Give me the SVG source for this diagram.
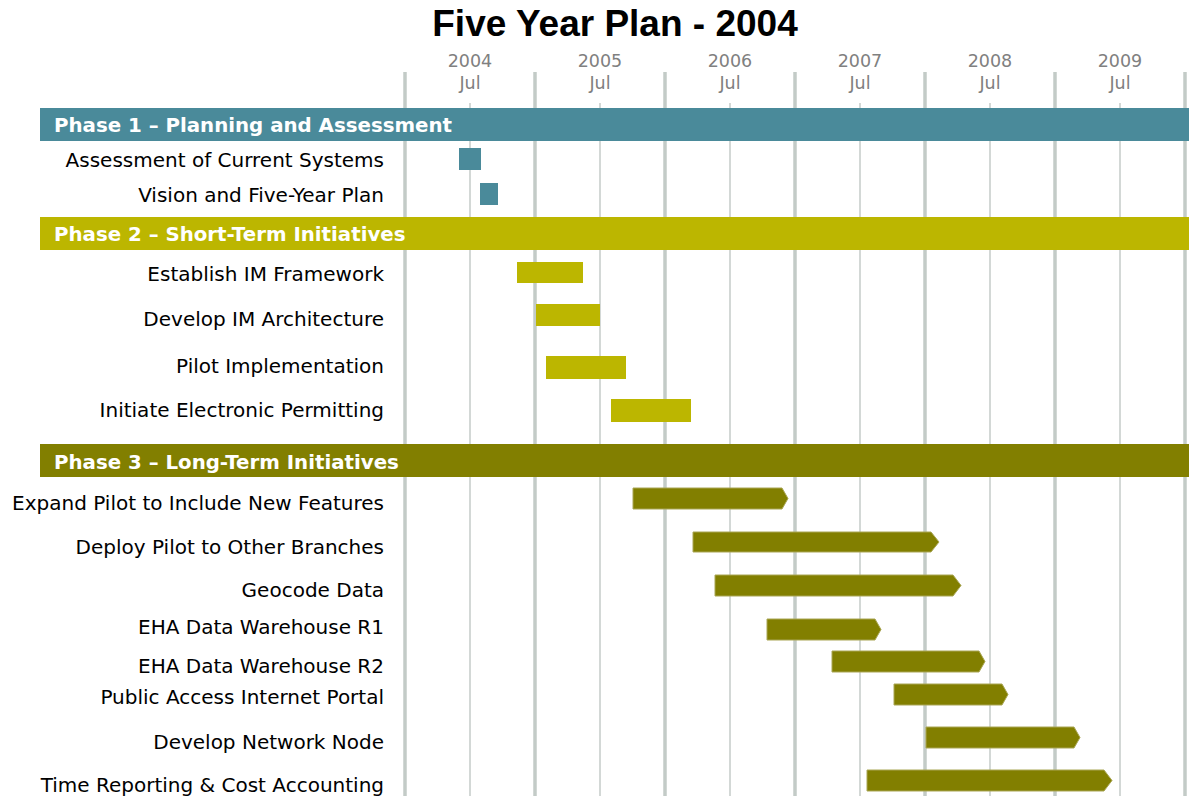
<svg xmlns="http://www.w3.org/2000/svg" width="1189" height="796" viewBox="0 0 1189 796">
<defs>
<style>
.title{font-family:"Liberation Sans",Arial,sans-serif;font-weight:bold;font-size:37px;fill:#000;text-anchor:middle}
.yr{font-family:"DejaVu Sans",Verdana,sans-serif;font-size:17.5px;fill:#808080;text-anchor:middle}
.lbl{font-family:"DejaVu Sans",Verdana,sans-serif;font-size:20px;fill:#000;text-anchor:end}
.ph{font-family:"DejaVu Sans",Verdana,sans-serif;font-weight:bold;font-size:19.8px;fill:#fff}
.gmaj{stroke:#c3cbc7;stroke-width:3.5}
.gmin{stroke:#d3d8d6;stroke-width:2}
.p1{fill:#4a8a9a}
.p2{fill:#bcb600}
.p3{fill:#827f00}
.p3b{fill:#827f00;stroke:#a9a655;stroke-width:1}
</style>
</defs>
<rect width="1189" height="796" fill="#fff"/>
<text class="title" x="615" y="36">Five Year Plan - 2004</text>
<g id="timescale">
<g class="yr">
<text x="470" y="67">2004</text><text x="470" y="89">Jul</text>
<text x="600" y="67">2005</text><text x="600" y="89">Jul</text>
<text x="730" y="67">2006</text><text x="730" y="89">Jul</text>
<text x="860" y="67">2007</text><text x="860" y="89">Jul</text>
<text x="990" y="67">2008</text><text x="990" y="89">Jul</text>
<text x="1120" y="67">2009</text><text x="1120" y="89">Jul</text>
</g>
<g class="gmin">
<line x1="470" y1="103" x2="470" y2="796"/>
<line x1="600" y1="103" x2="600" y2="796"/>
<line x1="730" y1="103" x2="730" y2="796"/>
<line x1="860" y1="103" x2="860" y2="796"/>
<line x1="990" y1="103" x2="990" y2="796"/>
<line x1="1120" y1="103" x2="1120" y2="796"/>
</g>
<g class="gmaj">
<line x1="405" y1="72" x2="405" y2="796"/>
<line x1="535" y1="72" x2="535" y2="796"/>
<line x1="665" y1="72" x2="665" y2="796"/>
<line x1="795" y1="72" x2="795" y2="796"/>
<line x1="925" y1="72" x2="925" y2="796"/>
<line x1="1055" y1="72" x2="1055" y2="796"/>
<line x1="1185" y1="72" x2="1185" y2="796"/>
</g>
</g>
<g id="phase1">
<rect class="p1" x="40" y="108" width="1149" height="33"/>
<text class="ph" x="54" y="132">Phase 1 – Planning and Assessment</text>
</g>
<g id="task-assessment"><text class="lbl" x="384" y="167">Assessment of Current Systems</text><rect class="p1" x="459" y="148" width="22" height="22"/></g>
<g id="task-vision"><text class="lbl" x="384" y="202">Vision and Five-Year Plan</text><rect class="p1" x="480" y="183" width="18" height="22"/></g>
<g id="phase2">
<rect class="p2" x="40" y="217" width="1149" height="33"/>
<text class="ph" x="54" y="241">Phase 2 – Short-Term Initiatives</text>
</g>
<g id="task-framework"><text class="lbl" x="384" y="281">Establish IM Framework</text><rect class="p2" x="517" y="262" width="66" height="21"/></g>
<g id="task-architecture"><text class="lbl" x="384" y="326">Develop IM Architecture</text><rect class="p2" x="536" y="304" width="64" height="22"/></g>
<g id="task-pilot"><text class="lbl" x="384" y="373">Pilot Implementation</text><rect class="p2" x="546" y="356" width="80" height="23"/></g>
<g id="task-permitting"><text class="lbl" x="384" y="417">Initiate Electronic Permitting</text><rect class="p2" x="611" y="399" width="80" height="23"/></g>
<g id="phase3">
<rect class="p3" x="40" y="444" width="1149" height="33"/>
<text class="ph" x="54" y="469">Phase 3 – Long-Term Initiatives</text>
</g>
<g id="task-expand"><text class="lbl" x="384" y="510">Expand Pilot to Include New Features</text><polygon class="p3b" points="633,488 782,488 788,498.5 782,509 633,509"/></g>
<g id="task-deploy"><text class="lbl" x="384" y="554">Deploy Pilot to Other Branches</text><polygon class="p3b" points="693,532 931,532 939,542 931,552 693,552"/></g>
<g id="task-geocode"><text class="lbl" x="384" y="597">Geocode Data</text><polygon class="p3b" points="715,575 953,575 961,585.5 953,596 715,596"/></g>
<g id="task-eha1"><text class="lbl" x="384" y="634">EHA Data Warehouse R1</text><polygon class="p3b" points="767,619 875,619 881,629.5 875,640 767,640"/></g>
<g id="task-eha2"><text class="lbl" x="384" y="673">EHA Data Warehouse R2</text><polygon class="p3b" points="832,651 979,651 985,661.5 979,672 832,672"/></g>
<g id="task-portal"><text class="lbl" x="384" y="704">Public Access Internet Portal</text><polygon class="p3b" points="894,684 1002,684 1008,694.5 1002,705 894,705"/></g>
<g id="task-node"><text class="lbl" x="384" y="749">Develop Network Node</text><polygon class="p3b" points="926,727 1074,727 1080,737.5 1074,748 926,748"/></g>
<g id="task-time"><text class="lbl" x="384" y="792">Time Reporting &amp; Cost Accounting</text><polygon class="p3b" points="867,770 1104,770 1112,780.5 1104,791 867,791"/></g>
<g id="connectors"/>
</svg>
